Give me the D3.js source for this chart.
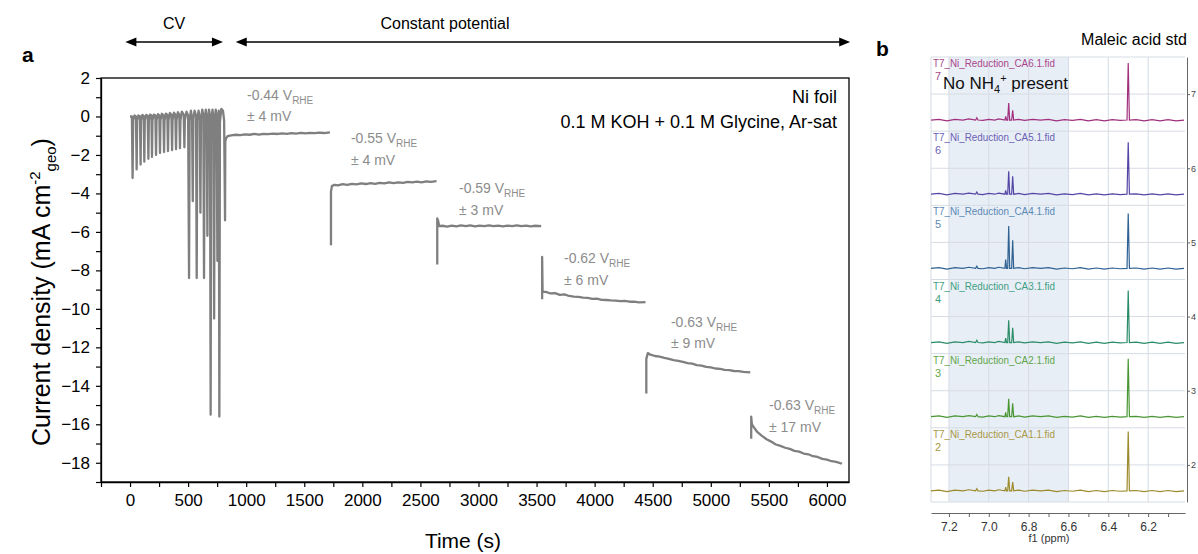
<!DOCTYPE html>
<html><head><meta charset="utf-8">
<script src="https://cdn.jsdelivr.net/npm/d3@7"></script>
<style>
body{margin:0;background:#fff}
svg{display:block}
text{font-family:"Liberation Sans",Arial,sans-serif}
</style>
</head><body>
<svg id="c" width="1198" height="554"></svg>
<script>
// ---------------- DATA: panel a ----------------
const xTicks = [-250,0,250,500,750,1000,1250,1500,1750,2000,2250,2500,2750,3000,3250,3500,3750,4000,4250,4500,4750,5000,5250,5500,5750,6000];
const yTicks = [-19,-18,-17,-16,-15,-14,-13,-12,-11,-10,-9,-8,-7,-6,-5,-4,-3,-2,-1,0,1,2];

// CV part followed by first constant-potential hold (time s, current mA cm-2)
const trace1 = [
 [0,0.0],[16,0.0],[22,-3.2],[27,-0.2],[38,0.05],[51,0.0],[57,-2.75],[61,-0.2],[72,0.05],[85,0.02],[91,-2.5],[95,-0.2],
 [106,0.08],[118,0.03],[123,-2.35],[127,-0.2],[139,0.08],[152,0.04],[158,-2.2],[162,-0.2],[172,0.1],[184,0.05],[189,-2.1],
 [193,-0.2],[205,0.1],[218,0.05],[224,-2.0],[228,-0.2],[240,0.12],[252,0.06],[258,-1.9],[262,-0.2],[274,0.14],[287,0.07],
 [293,-1.85],[297,-0.2],[309,0.15],[321,0.08],[327,-1.8],[331,-0.2],[343,0.18],[356,0.1],[362,-1.75],[366,-0.2],[378,0.2],
 [390,0.1],[396,-1.7],[400,-0.2],[412,0.22],[424,0.1],[430,-1.65],[434,-0.2],[446,0.25],[462,0.1],[468,-1.6],[472,-0.2],
 [486,0.25],[500,0.05],[508,-8.4],[513,-0.2],[524,0.3],[534,-0.1],[540,-4.4],[545,-0.1],[556,0.3],[568,0.05],[574,-8.4],
 [579,-0.2],[590,0.3],[600,-0.1],[606,-5.0],[611,-0.1],[622,0.35],[631,0.05],[637,-8.4],[642,-0.2],[652,0.35],[660,-0.1],
 [666,-6.2],[671,-0.1],[680,0.35],[688,0.05],[694,-15.5],[699,-0.2],[710,0.35],[718,-0.1],[724,-10.5],[729,-0.1],[738,0.35],
 [746,-0.1],[752,-7.5],[757,-0.1],[764,0.3],[769,-15.6],[774,-0.3],[786,0.4],[800,0.3],[810,-0.2],[818,-5.4],[820,-1.3],
 [826,-1.15],[840,-1.02],[870,-0.98],[910,-0.95],[950,-0.97],[990,-0.93],[1030,-0.95],[1070,-0.91],[1110,-0.94],[1150,-0.9],
 [1190,-0.92],[1230,-0.89],[1270,-0.91],[1310,-0.88],[1350,-0.9],[1390,-0.86],[1430,-0.89],[1470,-0.85],[1510,-0.88],
 [1550,-0.85],[1590,-0.87],[1630,-0.84],[1670,-0.86],[1721,-0.83]
];
const trace2 = [
 [1730,-6.7],[1730,-3.9],[1738,-3.62],[1760,-3.55],[1790,-3.58],[1830,-3.52],[1870,-3.55],[1910,-3.5],[1950,-3.53],[1990,-3.48],
 [2030,-3.51],[2070,-3.46],[2110,-3.5],[2150,-3.45],[2190,-3.48],[2230,-3.43],[2270,-3.46],[2310,-3.42],[2350,-3.45],
 [2390,-3.4],[2430,-3.43],[2470,-3.39],[2510,-3.42],[2550,-3.37],[2590,-3.4],[2639,-3.36]
];
const trace3 = [
 [2645,-7.7],[2645,-5.3],[2652,-5.4],[2662,-5.7],[2690,-5.68],[2730,-5.72],[2770,-5.67],[2810,-5.71],[2850,-5.66],[2890,-5.7],
 [2930,-5.66],[2970,-5.71],[3010,-5.67],[3050,-5.7],[3090,-5.66],[3130,-5.7],[3170,-5.67],[3210,-5.71],[3250,-5.67],
 [3290,-5.7],[3330,-5.66],[3370,-5.7],[3410,-5.67],[3450,-5.71],[3490,-5.68],[3540,-5.7]
];
const trace4 = [
 [3548,-9.5],[3548,-7.3],[3552,-9.1],[3580,-9.12],[3620,-9.2],[3660,-9.18],[3700,-9.27],[3740,-9.25],[3780,-9.33],[3820,-9.36],
 [3860,-9.38],[3900,-9.42],[3940,-9.43],[3980,-9.48],[4020,-9.47],[4060,-9.53],[4100,-9.54],[4140,-9.56],[4180,-9.57],
 [4220,-9.6],[4260,-9.59],[4300,-9.63],[4340,-9.62],[4380,-9.66],[4438,-9.65]
];
const trace5 = [
 [4445,-14.4],[4445,-12.6],[4458,-12.3],[4480,-12.38],[4520,-12.45],[4560,-12.48],[4600,-12.55],[4640,-12.6],[4680,-12.66],
 [4720,-12.7],[4760,-12.76],[4800,-12.82],[4840,-12.85],[4880,-12.92],[4920,-12.95],[4960,-13.02],[5000,-13.04],
 [5040,-13.1],[5080,-13.12],[5120,-13.17],[5160,-13.19],[5200,-13.23],[5240,-13.24],[5280,-13.28],[5340,-13.3]
];
const trace6 = [
 [5348,-16.75],[5348,-15.6],[5354,-16.0],[5370,-16.15],[5400,-16.4],[5440,-16.6],[5480,-16.78],[5520,-16.9],[5560,-17.05],
 [5600,-17.12],[5640,-17.22],[5680,-17.28],[5720,-17.38],[5760,-17.42],[5800,-17.52],[5840,-17.56],[5880,-17.66],
 [5920,-17.7],[5960,-17.8],[6000,-17.84],[6040,-17.92],[6080,-17.95],[6130,-18.05]
];
const traces = [trace1, trace2, trace3, trace4, trace5, trace6];

const potentials = ["-0.44","-0.55","-0.59","-0.62","-0.63","-0.63"];
const errors = ["± 4 mV","± 4 mV","± 3 mV","± 6 mV","± 9 mV","± 17 mV"];
const labelT = [1007, 1902, 2832, 3736, 4657, 5501];
const labelJ = [0.86, -1.38, -3.98, -7.62, -10.94, -15.26];

const cvSpan = [-40, 800];
const cpSpan = [910, 6200];

// ---------------- DATA: panel b ----------------
const specIds = [7,6,5,4,3,2];
const specNames = ["T7_Ni_Reduction_CA6.1.fid","T7_Ni_Reduction_CA5.1.fid","T7_Ni_Reduction_CA4.1.fid",
                   "T7_Ni_Reduction_CA3.1.fid","T7_Ni_Reduction_CA2.1.fid","T7_Ni_Reduction_CA1.1.fid"];
const maleicH  = [0.77, 0.70, 0.74, 0.70, 0.78, 0.80];   // 6.30 ppm
const peakA    = [0.23, 0.31, 0.57, 0.30, 0.24, 0.19];   // 6.90 ppm
const peakB    = [0.13, 0.24, 0.38, 0.20, 0.18, 0.12];   // 6.88 ppm
const shoulder = [0.05, 0.05, 0.12, 0.06, 0.06, 0.05];   // 6.915 ppm
const bump     = [0.03, 0.03, 0.03, 0.03, 0.03, 0.03];   // 7.06 ppm
const baseNoise = [[7.29,0.0],[7.25,0.01],[7.21,-0.01],[7.17,0.01],[7.13,0.0],[7.10,0.015],[7.03,-0.005],[7.0,0.01],
  [6.97,0.0],[6.95,0.015],[6.93,0.005],[6.85,0.01],[6.82,-0.005],[6.78,0.01],[6.74,0.0],[6.70,0.01],[6.66,-0.01],
  [6.62,0.005],[6.58,-0.005],[6.54,0.01],[6.50,-0.01],[6.46,0.005],[6.42,-0.01],[6.38,0.005],[6.34,-0.005],
  [6.26,0.005],[6.22,-0.01],[6.18,0.005],[6.14,-0.01],[6.10,0.005],[6.06,-0.01],[6.02,0.0]];
const ppmTicks = [7.2,7.1,7.0,6.9,6.8,6.7,6.6,6.5,6.4,6.3,6.2,6.1];
const ppmGrid = [7.2,7.0,6.8,6.6,6.4,6.2];
const offTicks = [2,3,4,5,6,7];
const shadeRange = [7.2, 6.6];

// ---------------- STYLES ----------------
const specLine = ["#a0307e","#5446a6","#2f6193","#2b8c68","#4a9634","#9c8a2c"];
const specLab  = ["#a8468a","#6b5fb5","#5b89b6","#3fa082","#5fa64a","#a89844"];
const traceColor = "#7f7f7f";
const annColor = "#8c8c8c";

const svg = d3.select("#c");

// ================= PANEL A =================
const x = d3.scaleLinear().domain([-250, 6190]).range([101, 849]);
const y = d3.scaleLinear().domain([-19, 2]).range([482, 78]);

svg.append("rect").attr("x", x.range()[0]).attr("y", y.range()[1])
  .attr("width", x.range()[1]-x.range()[0]).attr("height", y.range()[0]-y.range()[1])
  .attr("fill","none").attr("stroke","#000").attr("stroke-width",1.3);

const gx = svg.append("g").attr("transform",`translate(0,${y.range()[0]})`)
  .call(d3.axisBottom(x).tickValues(xTicks).tickFormat(d => d % 500 === 0 ? d : "").tickSize(5).tickSizeOuter(0).tickPadding(7));
const gy = svg.append("g").attr("transform",`translate(${x.range()[0]},0)`)
  .call(d3.axisLeft(y).tickValues(yTicks).tickFormat(d => d % 2 === 0 ? d3.format("d")(d) : "").tickSize(5).tickSizeOuter(0).tickPadding(6));
[gx, gy].forEach(g => {
  g.select(".domain").attr("stroke","#000").attr("stroke-width",1.3);
  g.selectAll(".tick line").attr("stroke","#000").attr("stroke-width",1.2);
  g.selectAll(".tick text").attr("font-size",17).attr("fill","#000").attr("font-family","'Liberation Sans',Arial,sans-serif");
});

const line = d3.line().x(d => x(d[0])).y(d => y(d[1]));
svg.append("g").selectAll("path").data(traces).join("path")
  .attr("d", line).attr("fill","none").attr("stroke",traceColor).attr("stroke-width",2.3)
  .attr("stroke-linejoin","round");

potentials.forEach((p,i) => {
  const tx = x(labelT[i]), ty = y(labelJ[i]);
  const t = svg.append("text").attr("x",tx).attr("y",ty).attr("fill",annColor).attr("font-size",14);
  t.append("tspan").text(p + " V");
  t.append("tspan").attr("font-size",10).attr("dy",4).text("RHE");
  svg.append("text").attr("x",tx).attr("y",ty+21.5).attr("fill",annColor).attr("font-size",14).text(errors[i]);
});

svg.append("text").attr("x",837).attr("y",103).attr("text-anchor","end").attr("font-size",18).text("Ni foil");
svg.append("text").attr("x",837).attr("y",128).attr("text-anchor","end").attr("font-size",18).text("0.1 M KOH + 0.1 M Glycine, Ar-sat");

function dblArrow(x1, x2, yy){
  svg.append("line").attr("x1",x1+6).attr("x2",x2-6).attr("y1",yy).attr("y2",yy)
    .attr("stroke","#000").attr("stroke-width",1.6);
  svg.append("path").attr("d",`M${x1},${yy} L${x1+11},${yy-4.5} L${x1+11},${yy+4.5} Z`).attr("fill","#000");
  svg.append("path").attr("d",`M${x2},${yy} L${x2-11},${yy-4.5} L${x2-11},${yy+4.5} Z`).attr("fill","#000");
}
dblArrow(x(cvSpan[0]), x(cvSpan[1]), 42);
dblArrow(x(cpSpan[0]), x(cpSpan[1]), 42);
svg.append("text").attr("x",(x(cvSpan[0])+x(cvSpan[1]))/2).attr("y",29).attr("text-anchor","middle").attr("font-size",16).text("CV");
svg.append("text").attr("x",445).attr("y",29).attr("text-anchor","middle").attr("font-size",16).text("Constant potential");

svg.append("text").attr("x",22).attr("y",62).attr("font-size",21).attr("font-weight","bold").text("a");

const yl = svg.append("text").attr("transform","translate(50,292) rotate(-90)").attr("text-anchor","middle").attr("font-size",25);
yl.append("tspan").text("Current density (mA cm");
yl.append("tspan").attr("font-size",15).attr("dy",-10).text("-2");
yl.append("tspan").attr("font-size",15).attr("dy",16).text("geo");
yl.append("tspan").attr("dy",-6).text(")");
svg.append("text").attr("x",463).attr("y",548).attr("text-anchor","middle").attr("font-size",21).text("Time (s)");

// ================= PANEL B =================
const xN = d3.scaleLinear().domain([7.29, 6.015]).range([931, 1185]);
const yN = d3.scaleLinear().domain([1.5, 7.5]).range([502, 57]);

svg.append("rect").attr("x",xN(shadeRange[0])).attr("y",yN(7.5)).attr("width",xN(shadeRange[1])-xN(shadeRange[0]))
  .attr("height",yN(1.5)-yN(7.5)).attr("fill","#e8eef6");
const grid = svg.append("g").attr("stroke","#d6dce3").attr("stroke-width",1);
ppmGrid.forEach(p => grid.append("line").attr("x1",xN(p)).attr("x2",xN(p)).attr("y1",yN(7.5)).attr("y2",yN(1.5)));
d3.range(1.5, 7.51, 0.5).forEach(v => grid.append("line").attr("x1",xN.range()[0]).attr("x2",xN.range()[1]).attr("y1",yN(v)).attr("y2",yN(v)));
grid.append("line").attr("x1",xN.range()[0]).attr("x2",xN.range()[0]).attr("y1",yN(7.5)).attr("y2",yN(1.5));

const lineN = d3.line().x(d => xN(d[0])).y(d => yN(d[1]));
specIds.forEach((id,i) => {
  const base = id - 0.35;
  const peaks = [[6.30, maleicH[i], 0.006],[6.90, peakA[i], 0.005],[6.88, peakB[i], 0.005],[6.915, shoulder[i], 0.004],[7.06, bump[i], 0.006]];
  let pts = baseNoise.filter(b => !peaks.some(p => Math.abs(b[0]-p[0]) < 0.02)).map(b => [b[0], base + b[1]]);
  peaks.forEach(p => { pts.push([p[0]+p[2], base]); pts.push([p[0], base + p[1]]); pts.push([p[0]-p[2], base]); });
  pts.sort((a,b) => b[0]-a[0]);
  svg.append("path").attr("d", lineN(pts)).attr("fill","none").attr("stroke",specLine[i]).attr("stroke-width",1.2);
  const top = yN(id + 0.5);
  svg.append("text").attr("x",933).attr("y",top+10).attr("font-size",10).attr("fill",specLab[i])
    .attr("textLength",122).attr("lengthAdjust","spacingAndGlyphs").text(specNames[i]);
  svg.append("text").attr("x",935).attr("y",top+23).attr("font-size",11).attr("fill",specLab[i]).text(id);
});

const gr = svg.append("g").attr("transform","translate(1187,0)")
  .call(d3.axisRight(yN).tickValues(offTicks).tickFormat(d3.format("d")).tickSize(3).tickSizeOuter(0).tickPadding(1));
gr.select(".domain").attr("stroke","#666");
gr.selectAll(".tick line").attr("stroke","#666");
gr.selectAll(".tick text").attr("font-size",9).attr("fill","#444");

const gb = svg.append("g").attr("transform","translate(0,513)")
  .call(d3.axisBottom(xN).tickValues(ppmTicks).tickFormat(d => ppmGrid.includes(d) ? d3.format(".1f")(d) : "").tickSize(4).tickSizeOuter(0).tickPadding(5));
gb.select(".domain").attr("stroke","#666");
gb.selectAll(".tick line").attr("stroke","#666");
gb.selectAll(".tick text").attr("font-size",12).attr("fill","#333");
svg.append("text").attr("x",1049).attr("y",542).attr("text-anchor","middle").attr("font-size",11).attr("fill","#333").text("f1 (ppm)");

const nh = svg.append("text").attr("x",943).attr("y",89).attr("font-size",17).attr("fill","#111");
nh.append("tspan").text("No NH");
nh.append("tspan").attr("font-size",11).attr("dy",4).text("4");
nh.append("tspan").attr("font-size",11).attr("dy",-11).text("+");
nh.append("tspan").attr("dy",7).text(" present");

svg.append("text").attr("x",1134).attr("y",45).attr("text-anchor","middle").attr("font-size",16).text("Maleic acid std");
svg.append("text").attr("x",876).attr("y",56).attr("font-size",21).attr("font-weight","bold").text("b");
</script>
</body></html>
